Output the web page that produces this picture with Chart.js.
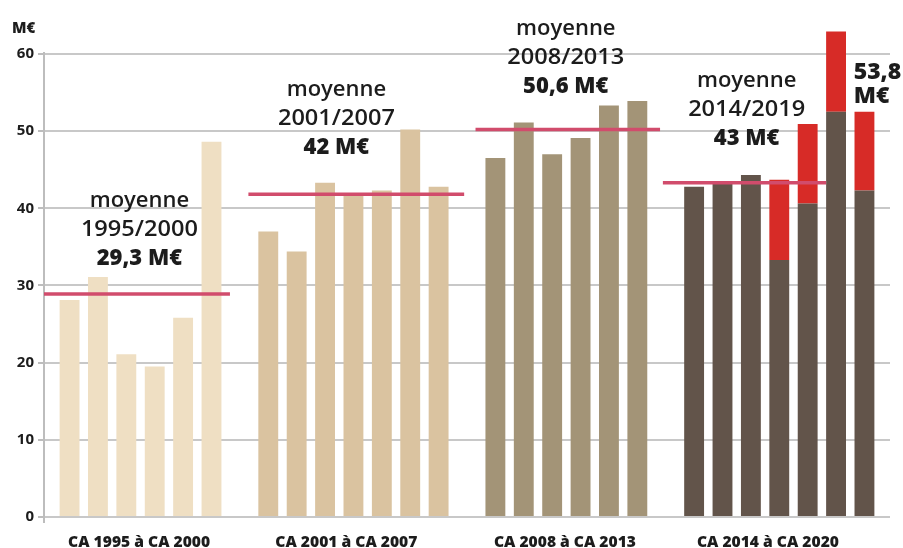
<!DOCTYPE html>
<html>
<head>
<meta charset="utf-8">
<script src="https://cdn.jsdelivr.net/npm/chart.js@4.4.1/dist/chart.umd.min.js"></script>
<style>
  html, body { margin: 0; background: #fff; }
  #chart { display: block; }
</style>
</head>
<body>
<canvas id="chart" width="903" height="548"></canvas>
<script>
// Data
const years = [1995, 1996, 1997, 1998, 1999, 2000,
  2001, 2002, 2003, 2004, 2005, 2006, 2007,
  2008, 2009, 2010, 2011, 2012, 2013,
  2014, 2015, 2016, 2017, 2018, 2019, 2020];
const groupLabels = ['CA 1995 à CA 2000', 'CA 2001 à CA 2007', 'CA 2008 à CA 2013', 'CA 2014 à CA 2020'];
const groupSizes = [6, 7, 6, 7];
const baseValues = [28.1, 31.1, 21.1, 19.5, 25.8, 48.6,
  37.0, 34.4, 43.3, 41.8, 42.3, 50.2, 42.8,
  46.5, 51.1, 47.0, 49.1, 53.3, 53.9,
  42.8, 43.3, 44.3, 33.3, 40.6, 52.5, 42.3];
const extraYears = [2017, 2018, 2019, 2020];
const extraValues = [10.4, 10.3, 10.4, 10.2];
const avgRanges = [[1995, 2000], [2001, 2007], [2008, 2013], [2014, 2019]];
const avgValues = [28.9, 41.8, 50.2, 43.3];
const avgTitles = ['1995/2000', '2001/2007', '2008/2013', '2014/2019'];
const avgLabels = ['29,3 M€', '42 M€', '50,6 M€', '43 M€'];
const lastLabel = ['53,8', 'M€'];
const yTicks = [0, 10, 20, 30, 40, 50, 60];

// Styles
const groupColors = ['#efdfc3', '#dac3a0', '#a39477', '#62544a'];
const extraColor = '#d72b27';
const avgColor = '#d14c6c';
const textColor = '#1c1c1c';
const FONT = '"Open Sans", "Noto Sans", sans-serif';

// each group is followed by one empty slot
const groupOf = [];
groupSizes.forEach((n, g) => { for (let k = 0; k < n; k++) groupOf.push(g); });
const xPos = years.map((y, i) => i + groupOf[i]);
const xOf = year => xPos[years.indexOf(year)];

// how far each average line reaches past its first / last bar (slots)
const lineReach = [[-0.9, 0.65], [-0.7, 0.9], [-0.7, 0.8], [-1.1, -0.35]];
// annotation anchors (x slot, y value of first baseline)
const noteAnchors = [[2.46, 40.2], [9.4, 54.5], [17.48, 62.5], [23.85, 55.7]];
const groupLabelX = [2.45, 9.75, 17.45, 24.6];

const avgDatasets = avgValues.map((v, g) => ({
  type: 'line',
  data: [
    { x: xOf(avgRanges[g][0]) + lineReach[g][0], y: v },
    { x: xOf(avgRanges[g][1]) + lineReach[g][1], y: v }
  ],
  borderColor: avgColor,
  borderWidth: 3.5,
  pointRadius: 0,
  stack: 'avg' + g,
  order: 0
}));

function fillFit(ctx, text, x, y, width) {
  const w = ctx.measureText(text).width;
  ctx.save();
  ctx.translate(x, y);
  ctx.scale(width / w, 1);
  ctx.textAlign = 'center';
  ctx.fillText(text, 0, 0);
  ctx.restore();
}

const decorations = {
  id: 'decorations',
  beforeDatasetsDraw(chart) {
    const { ctx, chartArea, scales: { y } } = chart;
    ctx.save();
    ctx.strokeStyle = '#bdbdbd';
    ctx.lineWidth = 2;
    ctx.beginPath();
    ctx.moveTo(chartArea.left, y.getPixelForValue(60) - 2);
    ctx.lineTo(chartArea.left, chartArea.bottom + 6);
    ctx.stroke();
    ctx.restore();
  },
  afterDatasetsDraw(chart) {
    const { ctx, chartArea, scales: { x, y } } = chart;
    ctx.save();
    ctx.fillStyle = textColor;
    ctx.textBaseline = 'alphabetic';
    ctx.textAlign = 'center';
    noteAnchors.forEach(([sx, sy], g) => {
      const px = x.getPixelForValue(sx);
      const py = y.getPixelForValue(sy);
      ctx.font = '600 22px ' + FONT;
      ctx.fillText('moyenne', px, py);
      fillFit(ctx, avgTitles[g], px, py + 29, 117);
      ctx.font = '800 22px ' + FONT;
      ctx.fillText(avgLabels[g], px, py + 58);
    });
    ctx.textAlign = 'left';
    ctx.font = '800 23px ' + FONT;
    const lx = x.getPixelForValue(27.62);
    const ly = y.getPixelForValue(56.8);
    ctx.fillText(lastLabel[0], lx, ly);
    ctx.fillText(lastLabel[1], lx, ly + 24.4);

    ctx.font = '800 15px ' + FONT;
    ctx.fillText('M€', 12, 33);

    ctx.font = '800 16px ' + FONT;
    groupLabels.forEach((t, g) => {
      fillFit(ctx, t, x.getPixelForValue(groupLabelX[g]), chartArea.bottom + 29.5, 142);
    });
    ctx.restore();
  }
};

new Chart(document.getElementById('chart'), {
  type: 'bar',
  data: {
    datasets: [
      {
        data: years.map((yr, i) => ({ x: xPos[i], y: baseValues[i] })),
        backgroundColor: groupOf.map(g => groupColors[g]),
        stack: 'ca',
        order: 1
      },
      {
        data: extraYears.map((yr, i) => ({ x: xOf(yr), y: extraValues[i] })),
        backgroundColor: extraColor,
        stack: 'ca',
        order: 1
      },
      ...avgDatasets
    ]
  },
  options: {
    responsive: false,
    animation: false,
    devicePixelRatio: 1,
    layout: { padding: { top: 23, right: 13, bottom: 31, left: 0 } },
    datasets: { bar: { barPercentage: 0.7, categoryPercentage: 1 } },
    plugins: { legend: { display: false }, tooltip: { enabled: false } },
    scales: {
      x: { type: 'linear', min: -0.9, max: 28.9, offset: false, display: false },
      y: {
        type: 'linear',
        stacked: true,
        min: 0,
        max: 64,
        afterBuildTicks: s => { s.ticks = yTicks.map(v => ({ value: v })); },
        afterFit: s => { s.width = 44; },
        border: { display: false },
        grid: { color: '#c8c8c8', lineWidth: 2, tickLength: 6, tickColor: '#bdbdbd' },
        ticks: { color: textColor, padding: 4, font: { family: FONT, size: 15, weight: 'bold' } }
      }
    }
  },
  plugins: [decorations]
});
</script>
</body>
</html>
